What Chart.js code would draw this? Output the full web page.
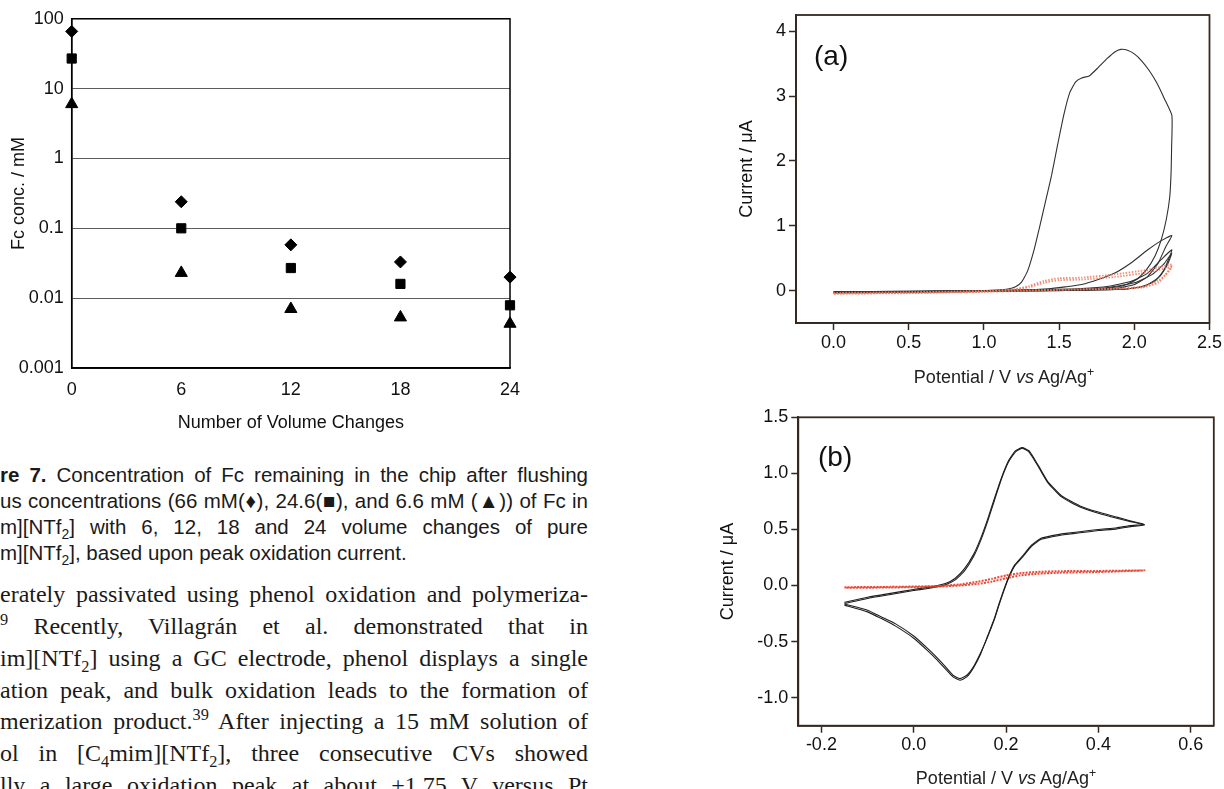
<!DOCTYPE html>
<html>
<head>
<meta charset="utf-8">
<script src="https://cdn.jsdelivr.net/npm/chart.js@4.4.1/dist/chart.umd.min.js"></script>
<style>
  html, body { margin: 0; padding: 0; background: #fff; }
  body { width: 1224px; height: 789px; position: relative; overflow: hidden; }
  canvas { position: absolute; }
  .cap, .txt { position: absolute; left: 0; width: 588px; text-align: justify; text-align-last: justify; color: #1a1a1a; }
  .cap { font: 20.5px "Liberation Sans", Arial, sans-serif; line-height: 26px; }
  .txt { font: 24px "Liberation Serif", "Times New Roman", serif; line-height: 32px; }
  .left { text-align-last: left; }
  sub, sup { font-size: 0.68em; line-height: 0; }
  .axt { position: absolute; width: 240px; text-align: center; font: 18px "Liberation Sans", Arial, sans-serif; line-height: 22px; color: #222; }
  .panel { position: absolute; font: 28px "Liberation Sans", Arial, sans-serif; line-height: 32px; color: #111; }
</style>
</head>
<body>
<canvas id="fcChart" width="560" height="434" style="left:0;top:0"></canvas>
<canvas id="cvA" width="534" height="390" style="left:690px;top:0"></canvas>
<canvas id="cvB" width="534" height="399" style="left:690px;top:390px"></canvas>

<div class="panel" style="left:814px;top:40px">(a)</div>
<div class="panel" style="left:818px;top:441px">(b)</div>
<div class="axt" style="left:884px;top:366px">Potential / V <i>vs</i> Ag/Ag<sup>+</sup></div>
<div class="axt" style="left:886px;top:767px">Potential / V <i>vs</i> Ag/Ag<sup>+</sup></div>

<div class="cap" style="top:462px"><b>re 7.</b> Concentration of Fc remaining in the chip after flushing</div>
<div class="cap" style="top:488px">us concentrations (66 mM(&#9830;), 24.6(&#9632;), and 6.6 mM (&#9650;)) of Fc in</div>
<div class="cap" style="top:514px">m][NTf<sub>2</sub>] with 6, 12, 18 and 24 volume changes of pure</div>
<div class="cap left" style="top:540px">m][NTf<sub>2</sub>], based upon peak oxidation current.</div>

<div class="txt" style="top:578px">erately passivated using phenol oxidation and polymeriza-</div>
<div class="txt" style="top:610px"><sup>9</sup> Recently, Villagrán et al. demonstrated that in</div>
<div class="txt" style="top:642px">im][NTf<sub>2</sub>] using a GC electrode, phenol displays a single</div>
<div class="txt" style="top:674px">ation peak, and bulk oxidation leads to the formation of</div>
<div class="txt" style="top:705px">merization product.<sup>39</sup> After injecting a 15 mM solution of</div>
<div class="txt" style="top:737px">ol in [C<sub>4</sub>mim][NTf<sub>2</sub>], three consecutive CVs showed</div>
<div class="txt" style="top:769px">lly a large oxidation peak at about +1.75 V versus Pt</div>

<script>
/* ---- Figure 7 data: Fc concentration after flushing ---- */
const volChanges = [0, 6, 12, 18, 24];
const fcHigh = [66, 0.24, 0.058, 0.033, 0.020];   // 66 mM (diamond)
const fcMid = [27, 0.10, 0.027, 0.016, 0.0079];   // 24.6 mM (square)
const fcLow = [6.0, 0.023, 0.0070, 0.0053, 0.0043]; // 6.6 mM (triangle)
const concTicks = [0.001, 0.01, 0.1, 1, 10, 100];

/* ---- CV panel (a): [potential V, current uA] ---- */
const cvA1 = [
  [0.00, -0.03], [0.20, -0.025], [0.40, -0.02], [0.60, -0.015], [0.80, -0.01], [1.00, 0.00],
  [1.10, 0.01], [1.16, 0.025], [1.21, 0.06], [1.25, 0.13], [1.29, 0.30], [1.33, 0.60],
  [1.37, 0.98], [1.41, 1.38], [1.45, 1.78], [1.49, 2.25], [1.53, 2.70], [1.57, 3.05],
  [1.61, 3.22], [1.65, 3.28], [1.70, 3.31], [1.76, 3.44], [1.82, 3.58], [1.87, 3.68],
  [1.91, 3.72], [1.95, 3.71], [2.00, 3.65], [2.05, 3.54], [2.10, 3.39], [2.15, 3.20],
  [2.20, 2.96], [2.25, 2.70],
  [2.248, 2.20], [2.245, 1.85], [2.236, 1.45], [2.213, 1.10], [2.18, 0.79], [2.137, 0.53],
  [2.08, 0.32], [2.015, 0.17], [1.92, 0.07], [1.76, 0.02], [1.50, 0.00], [1.20, -0.01],
  [0.80, -0.02], [0.40, -0.03], [0.00, -0.035],
];
const cvA2 = [
  [0.00, -0.025], [0.50, -0.015], [1.00, -0.005], [1.30, 0.01], [1.43, 0.026], [1.54, 0.057],
  [1.65, 0.093], [1.76, 0.17], [1.87, 0.27], [1.98, 0.43], [2.09, 0.63], [2.18, 0.77], [2.25, 0.85],
  [2.21, 0.68], [2.16, 0.43], [2.09, 0.22], [2.00, 0.093], [1.87, 0.03], [1.60, 0.01],
  [1.20, 0.00], [0.60, -0.015], [0.00, -0.03],
];
const cvA3 = [
  [0.00, -0.02], [0.50, -0.01], [1.00, 0.00], [1.40, 0.015], [1.65, 0.03], [1.83, 0.066],
  [1.98, 0.144], [2.09, 0.27], [2.18, 0.48], [2.25, 0.63],
  [2.20, 0.33], [2.14, 0.15], [2.05, 0.06], [1.92, 0.02], [1.60, 0.005], [1.00, -0.01],
  [0.50, -0.02], [0.00, -0.03],
];
const cvA4 = [
  [0.00, -0.02], [1.00, 0.00], [1.50, 0.01], [1.80, 0.04], [2.00, 0.12], [2.12, 0.25],
  [2.20, 0.42], [2.25, 0.58],
  [2.22, 0.40], [2.17, 0.22], [2.08, 0.08], [1.95, 0.025], [1.60, 0.005], [1.00, -0.01], [0.00, -0.03],
];
const blankA1 = [
  [0.00, -0.04], [0.50, -0.03], [1.00, -0.01], [1.20, 0.02], [1.30, 0.07], [1.40, 0.15],
  [1.50, 0.19], [1.65, 0.20], [1.87, 0.25], [2.09, 0.32], [2.25, 0.40],
  [2.20, 0.22], [2.16, 0.12], [2.05, 0.045], [1.87, 0.025], [1.50, 0.01], [1.00, -0.02],
  [0.50, -0.04], [0.00, -0.05],
];
const blankA2 = [
  [0.00, -0.035], [0.50, -0.025], [1.00, -0.005], [1.20, 0.015], [1.30, 0.05], [1.40, 0.12],
  [1.50, 0.16], [1.65, 0.17], [1.87, 0.21], [2.09, 0.28], [2.25, 0.36],
  [2.21, 0.25], [2.16, 0.15], [2.05, 0.06], [1.87, 0.03], [1.50, 0.015], [1.00, -0.015],
  [0.50, -0.035], [0.00, -0.045],
];
const cvATicksX = [0, 0.5, 1, 1.5, 2, 2.5];
const cvATicksY = [0, 1, 2, 3, 4];

/* ---- CV panel (b) ---- */
const cvB1 = [
  [-0.15, -0.16], [-0.10, -0.115], [-0.05, -0.08], [0.00, -0.045], [0.04, -0.02], [0.07, 0.01],
  [0.09, 0.05], [0.11, 0.13], [0.13, 0.26], [0.145, 0.40], [0.16, 0.57], [0.175, 0.76],
  [0.19, 0.95], [0.205, 1.10], [0.22, 1.19], [0.235, 1.225], [0.25, 1.19], [0.27, 1.06],
  [0.29, 0.92], [0.32, 0.79], [0.36, 0.70], [0.40, 0.645], [0.44, 0.60], [0.47, 0.57], [0.50, 0.54],
  [0.47, 0.525], [0.44, 0.505], [0.40, 0.49], [0.36, 0.47], [0.33, 0.455], [0.30, 0.435],
  [0.275, 0.41], [0.255, 0.35], [0.235, 0.25], [0.218, 0.17], [0.205, 0.06], [0.195, -0.05],
  [0.185, -0.17], [0.175, -0.30], [0.16, -0.46], [0.145, -0.60], [0.13, -0.72], [0.115, -0.80],
  [0.10, -0.83], [0.085, -0.80], [0.068, -0.72], [0.05, -0.64], [0.03, -0.56], [0.00, -0.45],
  [-0.04, -0.34], [-0.07, -0.28], [-0.10, -0.22], [-0.15, -0.165],
];
const cvB2 = [
  [-0.15, -0.15], [-0.10, -0.105], [-0.05, -0.07], [0.00, -0.035], [0.04, -0.01], [0.07, 0.02],
  [0.09, 0.065], [0.11, 0.15], [0.13, 0.28], [0.145, 0.42], [0.16, 0.59], [0.175, 0.78],
  [0.19, 0.96], [0.205, 1.11], [0.22, 1.20], [0.235, 1.23], [0.25, 1.20], [0.27, 1.07],
  [0.29, 0.93], [0.32, 0.80], [0.36, 0.71], [0.40, 0.655], [0.44, 0.61], [0.47, 0.575], [0.50, 0.545],
  [0.47, 0.535], [0.44, 0.515], [0.40, 0.50], [0.36, 0.48], [0.33, 0.465], [0.30, 0.445],
  [0.275, 0.42], [0.255, 0.36], [0.235, 0.26], [0.218, 0.18], [0.205, 0.07], [0.195, -0.04],
  [0.185, -0.16], [0.175, -0.29], [0.16, -0.45], [0.145, -0.61], [0.13, -0.73], [0.115, -0.815],
  [0.10, -0.845], [0.085, -0.815], [0.068, -0.74], [0.05, -0.66], [0.03, -0.58], [0.00, -0.47],
  [-0.04, -0.36], [-0.07, -0.295], [-0.10, -0.235], [-0.15, -0.175],
];
const blankB = [
  [-0.15, -0.015], [-0.05, -0.012], [0.05, -0.005], [0.10, 0.01], [0.14, 0.035], [0.17, 0.06],
  [0.20, 0.09], [0.23, 0.11], [0.27, 0.122], [0.32, 0.128], [0.40, 0.13], [0.50, 0.135],
  [0.40, 0.12], [0.32, 0.115], [0.27, 0.105], [0.23, 0.09], [0.20, 0.065], [0.17, 0.035],
  [0.14, 0.015], [0.10, 0.00], [0.05, -0.01], [-0.05, -0.018], [-0.15, -0.02],
];
const cvBTicksX = [-0.2, 0, 0.2, 0.4, 0.6];
const cvBTicksY = [-1, -0.5, 0, 0.5, 1, 1.5];

/* ---- Shared bits ---- */
const SANS = "'Liberation Sans', Arial, sans-serif";
const frameColor = "#35281f";
const toXY = (pairs) => pairs.map(([x, y]) => ({ x, y }));
const fixedTicks = (list) => (scale) => { scale.ticks = list.map((v) => ({ value: v })); };

// box round the plot area (the library only draws the axis sides)
const framePlugin = {
  id: "frame",
  beforeDatasetsDraw(chart, args, opts) {
    const { left, top, right, bottom } = chart.chartArea;
    const ctx = chart.ctx;
    ctx.save();
    ctx.strokeStyle = opts.color;
    ctx.lineWidth = opts.width;
    ctx.strokeRect(left, top, right - left, bottom - top);
    ctx.restore();
  },
};
Chart.register(framePlugin);

const cvLine = (pairs, color, width, dash) => ({
  data: toXY(pairs),
  showLine: true,
  pointRadius: 0,
  borderColor: color,
  borderWidth: width,
  borderDash: dash || [],
  tension: 0.15,
  fill: false,
});

const marker = (values, style, radius) => ({
  data: volChanges.map((x, i) => ({ x, y: values[i] })),
  pointStyle: style,
  pointRadius: radius,
  backgroundColor: "#000",
  borderColor: "#000",
  borderWidth: 1,
  clip: false,
});

/* ---- Figure 7 ---- */
new Chart(document.getElementById("fcChart"), {
  type: "scatter",
  data: {
    datasets: [
      marker(fcHigh, "rectRot", 6),
      marker(fcMid, "rect", 6.5),
      marker(fcLow, "triangle", 7),
    ],
  },
  options: {
    responsive: false,
    animation: false,
    layout: { padding: { top: 18, right: 50, bottom: 0, left: 0 } },
    plugins: {
      legend: { display: false },
      tooltip: { enabled: false },
      frame: { color: "#000", width: 1.5 },
    },
    scales: {
      x: {
        type: "linear",
        min: 0,
        max: 24,
        afterBuildTicks: fixedTicks(volChanges),
        afterFit: (s) => { s.height = 66; },
        grid: { drawOnChartArea: false, drawTicks: false },
        border: { color: "#000", width: 1.5 },
        ticks: { padding: 11, color: "#111", font: { family: SANS, size: 18 } },
        title: {
          display: true,
          text: "Number of Volume Changes",
          padding: 0,
          color: "#111",
          font: { family: SANS, size: 18 },
        },
      },
      y: {
        type: "logarithmic",
        min: 0.001,
        max: 100,
        afterBuildTicks: fixedTicks(concTicks),
        afterFit: (s) => { s.width = 71.7; },
        grid: { color: "#5c5c5c", lineWidth: 1, drawTicks: false },
        border: { color: "#000", width: 1.5 },
        ticks: {
          padding: 8,
          color: "#111",
          font: { family: SANS, size: 18 },
          callback: (v) => String(v),
        },
        title: {
          display: true,
          text: "Fc conc. / mM",
          padding: { top: 8, bottom: 0 },
          color: "#111",
          font: { family: SANS, size: 18 },
        },
      },
    },
  },
});

/* ---- CV axes shared by (a) and (b) ---- */
const cvScales = (xr, yr, xTicks, yTicks, yWidth, xHeight, yTitlePad) => ({
  x: {
    type: "linear",
    min: xr[0],
    max: xr[1],
    afterBuildTicks: fixedTicks(xTicks),
    afterFit: (s) => { s.height = xHeight; },
    grid: { drawOnChartArea: false, tickLength: 7, tickWidth: 1.5, tickColor: frameColor },
    border: { color: frameColor, width: 1.8 },
    ticks: {
      padding: 2,
      color: "#111",
      font: { family: SANS, size: 18 },
      callback: (v) => v.toFixed(1),
    },
  },
  y: {
    type: "linear",
    min: yr[0],
    max: yr[1],
    afterBuildTicks: fixedTicks(yTicks),
    afterFit: (s) => { s.width = yWidth; },
    grid: { drawOnChartArea: false, tickLength: 7, tickWidth: 1.5, tickColor: frameColor },
    border: { color: frameColor, width: 1.8 },
    ticks: {
      padding: 3,
      color: "#111",
      font: { family: SANS, size: 18 },
      callback: (v) => (yTicks.every(Number.isInteger) ? String(v) : v.toFixed(1)),
    },
    title: {
      display: true,
      text: "Current / μA",
      padding: { top: yTitlePad, bottom: 0 },
      color: "#111",
      font: { family: SANS, size: 18 },
    },
  },
});

const cvOptions = (padding, scales) => ({
  responsive: false,
  animation: false,
  layout: { padding },
  plugins: {
    legend: { display: false },
    tooltip: { enabled: false },
    frame: { color: frameColor, width: 1.8 },
  },
  scales,
});

/* ---- (a) ---- */
new Chart(document.getElementById("cvA"), {
  type: "scatter",
  data: {
    datasets: [
      cvLine(blankA1, "rgba(240,120,90,0.85)", 1.8, [1.5, 1.5]),
      cvLine(blankA2, "rgba(240,120,90,0.85)", 1.8, [1.5, 1.5]),
      cvLine(cvA4, "#303030", 1.1),
      cvLine(cvA3, "#303030", 1.1),
      cvLine(cvA2, "#303030", 1.1),
      cvLine(cvA1, "#303030", 1.1),
    ],
  },
  options: cvOptions(
    { top: 15, right: 12, bottom: 2, left: 0 },
    cvScales([-0.25, 2.5], [-0.5, 4.25], cvATicksX, cvATicksY, 106, 65, 46)
  ),
});

/* ---- (b) ---- */
new Chart(document.getElementById("cvB"), {
  type: "scatter",
  data: {
    datasets: [
      cvLine(blankB, "rgba(235,55,35,0.9)", 2, [2, 1.2]),
      cvLine(cvB1, "#1e1e1e", 1.1),
      cvLine(cvB2, "#1e1e1e", 1.1),
    ],
  },
  options: cvOptions(
    { top: 27.3, right: 10.2, bottom: 0, left: 0 },
    cvScales([-0.25, 0.65], [-1.25, 1.5], cvBTicksX, cvBTicksY, 108.3, 63.3, 27)
  ),
});
</script>
</body>
</html>
